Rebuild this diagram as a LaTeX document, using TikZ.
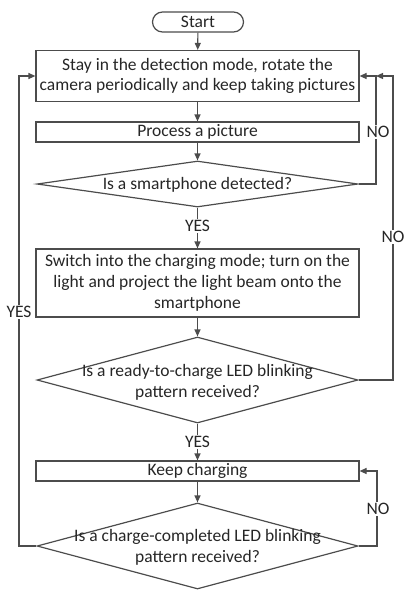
\documentclass[tikz,border=0pt]{standalone}
\usepackage{fontspec}
\setmainfont{Carlito}
\usetikzlibrary{arrows.meta,shapes.geometric}
\begin{document}
\begin{tikzpicture}[x=1pt,y=-1pt,
  every node/.style={font=\fontsize{17.5}{20.7}\selectfont, text=black!85},
  ln/.style={draw=black!70, line width=1.2pt},
  arr/.style={ln, -{Triangle[length=7pt,width=6pt]}},
  boxs/.style={ln, rectangle, minimum width=323pt, inner sep=0pt, align=center},
  dia/.style={ln, diamond, minimum width=321pt, inner sep=0pt},
  lab/.style={fill=white, inner sep=1pt}]
\useasboundingbox (0,0) rectangle (414,598);
\node[ln, rectangle, rounded corners=10pt, minimum width=91pt, minimum height=20pt, inner sep=0pt] (start) at (198,22) {Start};
\node[boxs, minimum height=51pt] (b1) at (197.5,76) {Stay in the detection mode, rotate the\\camera periodically and keep taking pictures};
\node[boxs, minimum height=20pt] (b2) at (197.5,132) {Process a picture};
\node[dia, minimum height=46pt] (d1) at (197.5,184) {};
\node (t1) at (197.5,185) {Is a smartphone detected?};
\node[boxs, minimum height=68pt] (b3) at (197.5,283) {Switch into the charging mode; turn on the\\light and project the light beam onto the\\smartphone};
\node[dia, minimum height=86pt] (d2) at (197.5,380) {};
\node[align=center] (t2) at (197.5,382) {Is a ready-to-charge LED blinking\\pattern received?};
\node[boxs, minimum height=20pt] (b4) at (197.5,471) {Keep charging};
\node[dia, minimum height=86pt] (d3) at (197.5,546) {};
\node[align=center] (t3) at (197.5,547) {Is a charge-completed LED blinking\\pattern received?};

\coordinate (L) at (19,546);
\coordinate (R1) at (376,184);
\coordinate (R2) at (393,380);
\coordinate (J) at (376,76);
\coordinate (R3) at (377,546);

\draw[arr] (start) -- (b1);
\draw[arr] (b1) -- (b2);
\draw[arr] (b2) -- (d1);
\draw[arr] (d1) -- node[lab, pos=0.45] (y1) {YES} (b3);
\draw[arr] (b3) -- (d2);
\draw[arr] (d2) -- node[lab, pos=0.5] (y2) {YES} (b4);
\draw[arr] (b4) -- (d3);

\draw[arr] (d3.west) -- (L) |- (b1.west);
\node[lab] (y3) at (19,312) {YES};
\draw[arr] (d1.east) -- (R1) |- (b1.east);
\node[lab] (n1) at (378,132) {NO};
\draw[arr] (d2.east) -- (R2) |- (J);
\node[lab] (n2) at (393,237) {NO};
\draw[arr] (d3.east) -- (R3) |- (b4.east);
\node[lab] (n3) at (378,509) {NO};
\end{tikzpicture}
\end{document}
